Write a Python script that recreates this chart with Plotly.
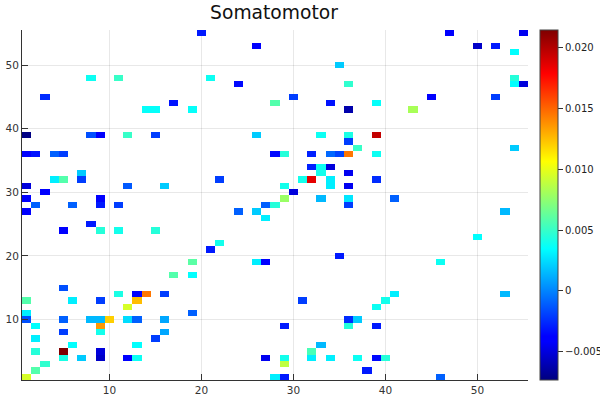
import numpy as np
import plotly.graph_objects as go

# rows of the matrix top to bottom
cell_y = [55, 55, 55,
          53, 53, 53,
          52,
          50,
          48, 48, 48, 48,
          47, 47, 47, 47,
          45, 45, 45, 45,
          44, 44, 44, 44,
          43, 43, 43, 43, 43,
          39, 39, 39, 39, 39, 39, 39, 39, 39,
          38,
          37, 37,
          36, 36, 36, 36, 36, 36, 36, 36, 36, 36, 36,
          34, 34, 34,
          33, 33, 33,
          32, 32, 32, 32, 32, 32, 32, 32,
          31, 31, 31, 31, 31, 31,
          30, 30,
          29, 29, 29, 29, 29, 29,
          28, 28, 28, 28, 28, 28, 28,
          27, 27, 27, 27,
          26,
          25,
          24, 24, 24, 24,
          23,
          22,
          21,
          20,
          19, 19, 19, 19,
          17, 17,
          15,
          14, 14, 14, 14, 14, 14,
          13, 13, 13, 13, 13, 13,
          12, 12,
          11, 11,
          10, 10, 10, 10, 10, 10, 10, 10, 10, 10,
          9, 9, 9, 9, 9,
          8, 8, 8,
          7, 7,
          6, 6, 6,
          5, 5, 5, 5,
          4, 4, 4, 4, 4, 4, 4, 4, 4, 4, 4, 4,
          3, 3,
          2, 2,
          1, 1, 1, 1]
cell_x = [20, 47, 55,
          26, 50, 52,
          54,
          35,
          8, 11, 21, 54,
          24, 36, 54, 55,
          3, 30, 45, 52,
          17, 28, 34, 39,
          14, 15, 19, 36, 43,
          1, 8, 9, 12, 15, 26, 33, 36, 39,
          36,
          37, 54,
          1, 2, 4, 5, 28, 29, 32, 34, 35, 36, 39,
          32, 33, 34,
          7, 33, 36,
          4, 5, 7, 22, 31, 32, 34, 39,
          1, 12, 16, 29, 34, 36,
          3, 30,
          1, 9, 29, 33, 36, 41,
          2, 6, 9, 11, 27, 28, 36,
          1, 24, 26, 53,
          27,
          8,
          5, 9, 11, 15,
          50,
          22,
          21,
          35,
          19, 26, 27, 46,
          17, 19,
          5,
          11, 13, 14, 16, 41, 53,
          1, 6, 9, 13, 31, 40,
          12, 39,
          1, 19,
          1, 5, 8, 9, 10, 12, 13, 16, 36, 37,
          2, 9, 29, 36, 39,
          5, 9, 16,
          2, 15,
          6, 13, 33,
          2, 5, 9, 32,
          5, 7, 9, 12, 13, 27, 29, 32, 34, 37, 39, 40,
          3, 29,
          2, 38,
          1, 28, 29, 46]
cell_val = [-0.003, -0.004, -0.0045,
            -0.004, -0.0055, -0.003,
            0.0035,
            0.002,
            0.0038, 0.005, 0.0038, 0.0045,
            -0.0035, 0.0048, 0.0035, -0.005,
            -0.0025, -0.002, -0.0038, -0.002,
            -0.0032, 0.0058, -0.0032, 0.0036,
            0.0036, 0.0036, 0.0036, -0.0062, 0.0082,
            -0.0072, -0.0015, -0.0042, 0.005, -0.002, 0.002, 0.0038, 0.0042, 0.0195,
            -0.002,
            0.005, 0.002,
            -0.004, -0.0032, -0.001, -0.002, -0.0035, 0.0045, -0.0028, -0.0008, -0.0018, 0.0145, 0.0038,
            -0.0028, 0.0038, -0.005,
            0.002, 0.004, -0.0045,
            0.003, 0.0058, -0.002, -0.002, 0.004, 0.0185, 0.003, -0.0025,
            -0.005, -0.0012, 0.002, 0.004, 0.003, -0.0045,
            -0.004, -0.005,
            -0.004, -0.004, 0.0078, 0.0015, 0.0028, -0.001,
            -0.001, -0.001, -0.003, -0.002, -0.001, 0.0045, -0.002,
            -0.004, -0.001, 0.002, 0.0015,
            0.003,
            -0.003,
            -0.004, 0.0045, 0.004, 0.0045,
            0.0035,
            0.004,
            -0.003,
            -0.003,
            0.006, 0.003, -0.004, 0.0038,
            0.0058, 0.0035,
            -0.0015,
            0.0042, -0.004, 0.0145, -0.002, 0.003, 0.0015,
            0.0058, 0.003, -0.002, 0.0125, -0.002, 0.004,
            0.0095, 0.0038,
            0.003, -0.001,
            -0.0015, -0.001, 0.0015, 0.0015, 0.012, 0.0025, -0.001, 0.001, -0.0025, 0.002,
            0.0035, 0.0135, -0.003, 0.0045, -0.003,
            -0.002, 0.004, 0.001,
            0.003, -0.002,
            0.0035, 0.0035, 0.0015,
            0.0045, 0.0214, -0.005, 0.0055,
            0.0042, 0.002, -0.0055, -0.004, 0.0038, -0.0045, 0.004, 0.003, 0.003, 0.0038, -0.0035, 0.0045,
            0.0048, 0.0088,
            0.0058, -0.003,
            0.0095, 0.003, -0.003, -0.001]

axis_ticks = [10, 20, 30, 40, 50]
bar_ticks = [0.020, 0.015, 0.010, 0.005, 0, -0.005]
bar_labels = ['0.020', '0.015', '0.010', '0.005', '0', '\u22120.005']

n = 55
z = np.full((n, n), np.nan)
for xi, yi, v in zip(cell_x, cell_y, cell_val):
    z[yi - 1, xi - 1] = v

jet = [[0, '#00007f'], [0.11, '#0000ff'], [0.125, '#0000ff'], [0.375, '#00ffff'],
       [0.625, '#ffff00'], [0.875, '#ff0000'], [1, '#7f0000']]

fig = go.Figure(go.Heatmap(
    x=np.arange(1, n + 1),
    y=np.arange(1, n + 1),
    z=z,
    zmin=-0.0073,
    zmax=0.0214,
    colorscale=jet,
    hoverongaps=False,
    colorbar=dict(
        thickness=18,
        len=1,
        lenmode='fraction',
        x=(540 - 22) / 506,
        xanchor='left',
        y=0.5,
        ypad=0,
        xpad=0,
        outlinewidth=1,
        outlinecolor='#444444',
        tickmode='array',
        tickvals=bar_ticks,
        ticktext=bar_labels,
        ticks='outside',
        ticklen=5,
        tickcolor='#333333',
        tickfont=dict(family='DejaVu Sans', size=10, color='#222222'),
    ),
))

axis_style = dict(
    range=[0.5, 55.5],
    tickmode='array',
    tickvals=axis_ticks,
    ticks='inside',
    ticklen=6,
    tickcolor='#333333',
    showgrid=True,
    gridcolor='rgba(0,0,0,0.09)',
    gridwidth=1,
    zeroline=False,
    showline=True,
    linecolor='#333333',
    linewidth=1,
    automargin=False,
    tickfont=dict(family='DejaVu Sans', size=10.5, color='#333333'),
)
fig.update_xaxes(**axis_style)
fig.update_yaxes(**axis_style)

fig.update_layout(
    width=600,
    height=400,
    autosize=False,
    paper_bgcolor='white',
    plot_bgcolor='white',
    margin=dict(l=22, r=72, t=30, b=20, pad=0, autoexpand=False),
    title=dict(
        text='Somatomotor',
        font=dict(family='DejaVu Sans', size=18.7, color='#111111'),
        x=274 / 600,
        xanchor='center',
        y=1 - 12 / 400,
        yanchor='middle',
    ),
)

# page margin would push the 600x400 figure out of the window
fig.write_html('out.html', config={'displayModeBar': False},
               post_script="document.body.style.margin='0';")
